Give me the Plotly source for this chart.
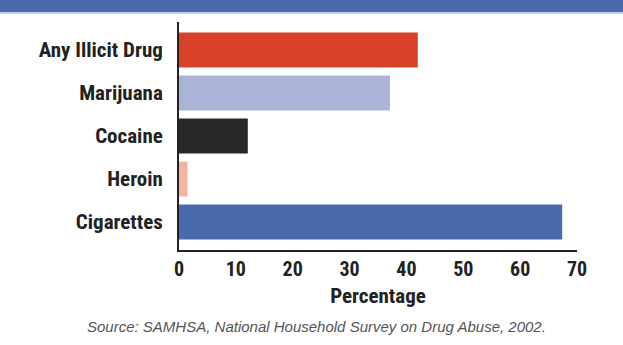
import plotly.graph_objects as go

categories = ["Any Illicit Drug", "Marijuana", "Cocaine", "Heroin", "Cigarettes"]
values = [42.0, 37.1, 12.1, 1.5, 67.4]
colors = ["#d9402a", "#a9b4d8", "#2b2829", "#f3b3a1", "#4a6aac"]
x_ticks = [0, 10, 20, 30, 40, 50, 60, 70]

L, R, T, B = 179, 46, 22, 95
W, H = 623, 345
pw, ph = W - L - R, H - T - B

fig = go.Figure(go.Bar(
    x=values, y=categories, orientation="h",
    marker=dict(color=colors, line=dict(width=0)),
    width=0.81,
))

font_bold = "Roboto Condensed, Roboto, sans-serif"

fig.update_layout(
    width=W, height=H,
    margin=dict(l=L, r=R, t=T, b=B, pad=0),
    paper_bgcolor="white", plot_bgcolor="white",
    showlegend=False,
    xaxis=dict(
        range=[0, 70], tickvals=x_ticks, ticktext=[str(t) for t in x_ticks],
        showgrid=False, zeroline=False,
        showline=True, linecolor="#222", linewidth=2,
        ticks="", ticklabelstandoff=0,
        tickfont=dict(family=font_bold, size=20, color="#222", weight="bold"),
        title=dict(text="Percentage", standoff=8,
                   font=dict(family=font_bold, size=21, color="#222", weight="bold")),
        fixedrange=True,
    ),
    yaxis=dict(
        range=[4.65, -0.65],
        showgrid=False, zeroline=False,
        showline=True, linecolor="#222", linewidth=2,
        ticks="", ticklabelstandoff=10,
        tickfont=dict(family=font_bold, size=21, color="#222", weight="bold"),
        fixedrange=True,
    ),
    shapes=[
        dict(type="rect", xref="paper", yref="paper",
             x0=-L / pw, x1=1 + R / pw,
             y0=1 + (T - 12) / ph, y1=1 + T / ph,
             fillcolor="#4a6aab", line=dict(width=0), layer="above"),
        dict(type="rect", xref="paper", yref="paper",
             x0=-L / pw, x1=1 + R / pw,
             y0=1 + (T - 14) / ph, y1=1 + (T - 12) / ph,
             fillcolor="#c5d0e6", line=dict(width=0), layer="above"),
    ],
    annotations=[
        dict(text="<i>Source: SAMHSA, National Household Survey on Drug Abuse, 2002.</i>",
             xref="paper", yref="paper",
             x=(316 - L) / pw, y=-(326 - (T + ph)) / ph,
             xanchor="center", yanchor="middle", showarrow=False,
             font=dict(family="Liberation Sans, Arial, sans-serif", size=15, color="#555")),
    ],
)

fig.write_html("out.html")
